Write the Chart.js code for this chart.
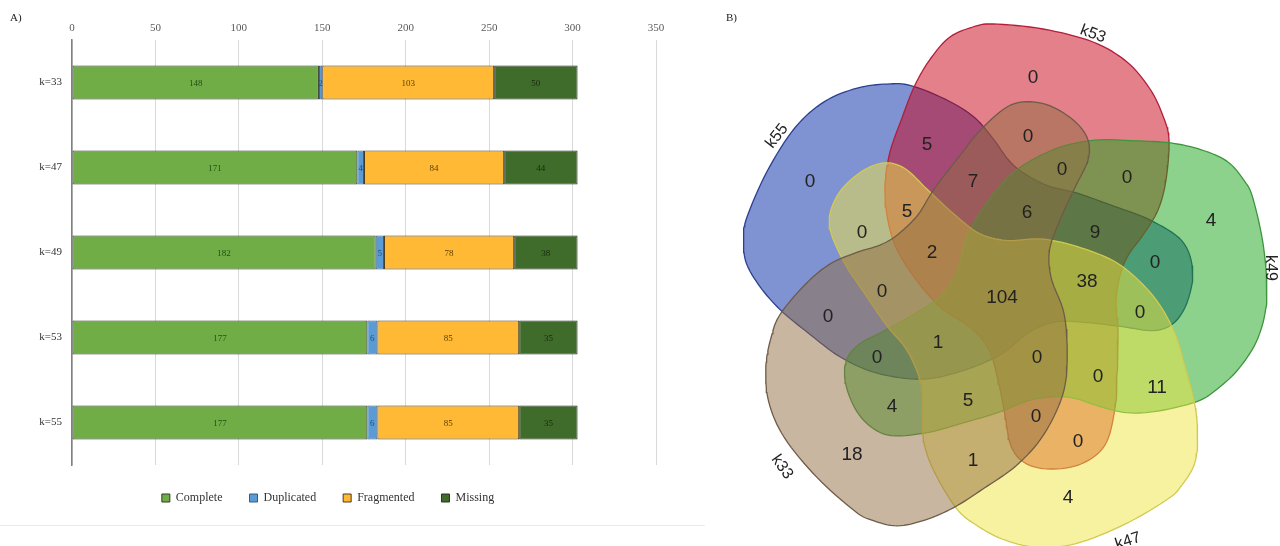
<!DOCTYPE html>
<html>
<head>
<meta charset="utf-8">
<script src="https://cdn.jsdelivr.net/npm/chart.js@4/dist/chart.umd.min.js"></script>
<style>
  html, body { margin: 0; padding: 0; background: #ffffff; }
  #wrap { position: relative; width: 1280px; height: 546px; overflow: hidden; }
  canvas.panel { position: absolute; top: 0; }
  .tag { position: absolute; font: 11px "Liberation Serif", "DejaVu Serif", serif; color: #222; }
  .frame { position: absolute; left: 0; top: 525px; width: 705px; height: 1px; background: #ececec; }
</style>
</head>
<body>
<div id="wrap">
  <canvas id="busco" class="panel" width="720" height="546" style="left:0"></canvas>
  <canvas id="venn" class="panel" width="560" height="546" style="left:720px"></canvas>
  <div class="tag" style="left:10px; top:11px">A)</div>
  <div class="tag" style="left:726px; top:11px">B)</div>
  <div class="frame"></div>
</div>
<script>
// ---- Panel A: BUSCO completeness per k-mer assembly ----
const assemblies = ['k=33', 'k=47', 'k=49', 'k=53', 'k=55'];
const complete   = [148, 171, 182, 177, 177];
const duplicated = [2, 4, 5, 6, 6];
const fragmented = [103, 84, 78, 85, 85];
const missing    = [50, 44, 38, 35, 35];
const axisTicks  = [0, 50, 100, 150, 200, 250, 300, 350];

// ---- Panel B: shared genes between assemblies (5-set Venn) ----
const vennSets   = ['k53', 'k49', 'k47', 'k33', 'k55'];
const vennCounts = [0, 5, 0, 7, 0, 0, 5, 6, 9, 0, 0, 2, 0, 0, 1, 0,
                    38, 104, 0, 0, 0, 0, 11, 5, 0, 0, 1, 4, 18, 4, 4];

// where each region count is written (Venn plane, centre at 0,0, y downwards)
const vennCountAnchors = [
  [30, -212], [-76, -145], [25, -153], [-30, -108], [59, -120], [124, -112],
  [-96, -78], [24, -77], [92, -57], [-193, -108], [-141, -57], [-71, -37],
  [-121, 2], [-175, 27], [-65, 53], [-126, 68], [84, -8], [-1, 8],
  [152, -27], [137, 23], [34, 68], [95, 87], [154, 98], [-35, 111],
  [33, 127], [75, 152], [-30, 171], [-111, 117], [-151, 165], [65, 208], [208, -69]
];
// set name labels: position and text angle (degrees)
const vennLabelAnchors = [[90, -256], [267, -22], [125, 251], [-221, 177], [-226, -154]];
const vennLabelAngles  = [20, 90, -18, 55, -52];

// outline of one set; the other four are the same outline turned by 72 degree steps
const setOutline = [
  [-53, -253], [-30, -263], [-10, -266], [40, -261], [90, -248], [124, -228],
  [147, -201], [160, -174], [166, -150], [163, -110], [155, -80], [140, -55],
  [126, -36], [118, -18], [113, 10], [115, 40], [114, 80], [112, 118],
  [102, 155], [78, 174], [47, 179], [22, 173], [8, 156], [2, 125],
  [-5, 90], [-14, 60], [-32, 38], [-63, 17], [-91, -16], [-110, -50],
  [-118, -94], [-114, -134], [-101, -172], [-88, -205], [-72, -232]
];

const vennFill   = ['rgba(201,1,21,0.5)', 'rgba(25,165,25,0.5)', 'rgba(239,229,65,0.5)',
                    'rgba(145,109,65,0.5)', 'rgba(0,39,167,0.5)'];
const vennStroke = ['#b21e3c', '#3c963c', '#d2ca50', '#6e5c48', '#2b3f8f'];
// paint order: blue lowest, then red, green, yellow, brown on top
const vennLayer  = [3, 2, 1, 0, 4];

const serif = '"Liberation Serif", "DejaVu Serif", serif';
const sans  = '"Liberation Sans", Arial, sans-serif';

// closed Catmull-Rom curve through the outline knots
function smoothLoop(pts, steps) {
  const out = [];
  const n = pts.length;
  const f = (a, b, c, d, t) => {
    const t2 = t * t, t3 = t2 * t;
    return 0.5 * (2 * b + (-a + c) * t + (2 * a - 5 * b + 4 * c - d) * t2 + (-a + 3 * b - 3 * c + d) * t3);
  };
  for (let i = 0; i < n; i++) {
    const p0 = pts[(i - 1 + n) % n], p1 = pts[i], p2 = pts[(i + 1) % n], p3 = pts[(i + 2) % n];
    for (let s = 0; s < steps; s++) {
      const t = s / steps;
      out.push([f(p0[0], p1[0], p2[0], p3[0], t), f(p0[1], p1[1], p2[1], p3[1], t)]);
    }
  }
  out.push(out[0]);
  return out;
}

function turn(pts, deg) {
  const a = deg * Math.PI / 180, c = Math.cos(a), s = Math.sin(a);
  return pts.map(([x, y]) => ({ x: x * c - y * s, y: x * s + y * c }));
}

// ---- Panel A chart ----
const valueColors = ['#244d14', '#1f4e79', '#5c4300', '#182c0e'];
const barValues = {
  id: 'barValues',
  afterDatasetsDraw(chart) {
    const ctx = chart.ctx;
    ctx.save();
    ctx.font = '9px ' + serif;
    ctx.textAlign = 'center';
    ctx.textBaseline = 'middle';
    chart.data.datasets.forEach((ds, di) => {
      ctx.fillStyle = valueColors[di];
      chart.getDatasetMeta(di).data.forEach((bar, i) => {
        ctx.fillText(String(ds.data[i]), (bar.x + bar.base) / 2, bar.y + 1);
      });
    });
    ctx.restore();
  }
};

new Chart(document.getElementById('busco'), {
  type: 'bar',
  data: {
    labels: assemblies,
    datasets: [
      { label: 'Complete',   data: complete,   backgroundColor: '#70ad47', borderColor: '#2f3a2a' },
      { label: 'Duplicated', data: duplicated, backgroundColor: '#5b9bd5', borderColor: '#3a5a78' },
      { label: 'Fragmented', data: fragmented, backgroundColor: '#ffb935', borderColor: '#4a3c20' },
      { label: 'Missing',    data: missing,    backgroundColor: '#3f6b2b', borderColor: '#2a3324' }
    ]
  },
  options: {
    indexAxis: 'y',
    responsive: false,
    animation: false,
    events: [],
    layout: { padding: { left: 0, right: 64, top: 0, bottom: 32 } },
    datasets: { bar: { categoryPercentage: 1, barPercentage: 0.4, borderWidth: 1, borderSkipped: false } },
    scales: {
      x: {
        position: 'top',
        stacked: true,
        min: 0,
        max: 350,
        afterBuildTicks: (s) => { s.ticks = axisTicks.map(v => ({ value: v })); },
        afterFit: (s) => { s.height = 40; },
        ticks: { font: { family: serif, size: 11 }, color: '#595959', padding: 5 },
        grid: { color: '#d9d9d9', drawTicks: false },
        border: { display: false }
      },
      y: {
        stacked: true,
        afterFit: (s) => { s.width = 72; },
        ticks: { font: { family: serif, size: 11 }, color: '#333333', padding: 10 },
        grid: { display: false, drawTicks: false },
        border: { display: true, color: '#7f7f7f', width: 1.5 }
      }
    },
    plugins: {
      legend: {
        position: 'bottom',
        labels: { boxWidth: 8, boxHeight: 8, padding: 27, color: '#333333', font: { family: serif, size: 12 } }
      },
      tooltip: { enabled: false }
    }
  },
  plugins: [barValues]
});

// ---- Panel B chart ----
const vennText = {
  id: 'vennText',
  afterDatasetsDraw(chart) {
    const { ctx, scales: { x, y } } = chart;
    ctx.save();
    ctx.fillStyle = '#222222';
    ctx.textAlign = 'center';
    ctx.textBaseline = 'middle';
    ctx.font = '19px ' + sans;
    vennCounts.forEach((v, i) => {
      const [ax, ay] = vennCountAnchors[i];
      ctx.fillText(String(v), x.getPixelForValue(ax), y.getPixelForValue(ay));
    });
    ctx.font = '16px ' + sans;
    vennSets.forEach((name, i) => {
      const [ax, ay] = vennLabelAnchors[i];
      ctx.save();
      ctx.translate(x.getPixelForValue(ax), y.getPixelForValue(ay));
      ctx.rotate(vennLabelAngles[i] * Math.PI / 180);
      ctx.fillText(name, 0, 0);
      ctx.restore();
    });
    ctx.restore();
  }
};

const loop = smoothLoop(setOutline, 8);
new Chart(document.getElementById('venn'), {
  type: 'line',
  data: {
    datasets: vennSets.map((name, i) => ({
      label: name,
      data: turn(loop, i * 72),
      order: vennLayer[i],
      backgroundColor: vennFill[i],
      borderColor: vennStroke[i],
      borderWidth: 1.3,
      pointRadius: 0,
      tension: 0,
      fill: 'shape'
    }))
  },
  options: {
    responsive: false,
    animation: false,
    events: [],
    layout: { padding: 0 },
    scales: {
      x: { type: 'linear', display: false, min: -283, max: 277 },
      y: { type: 'linear', display: false, min: -290, max: 256, reverse: true }
    },
    plugins: { legend: { display: false }, tooltip: { enabled: false } }
  },
  plugins: [vennText]
});
</script>
</body>
</html>
